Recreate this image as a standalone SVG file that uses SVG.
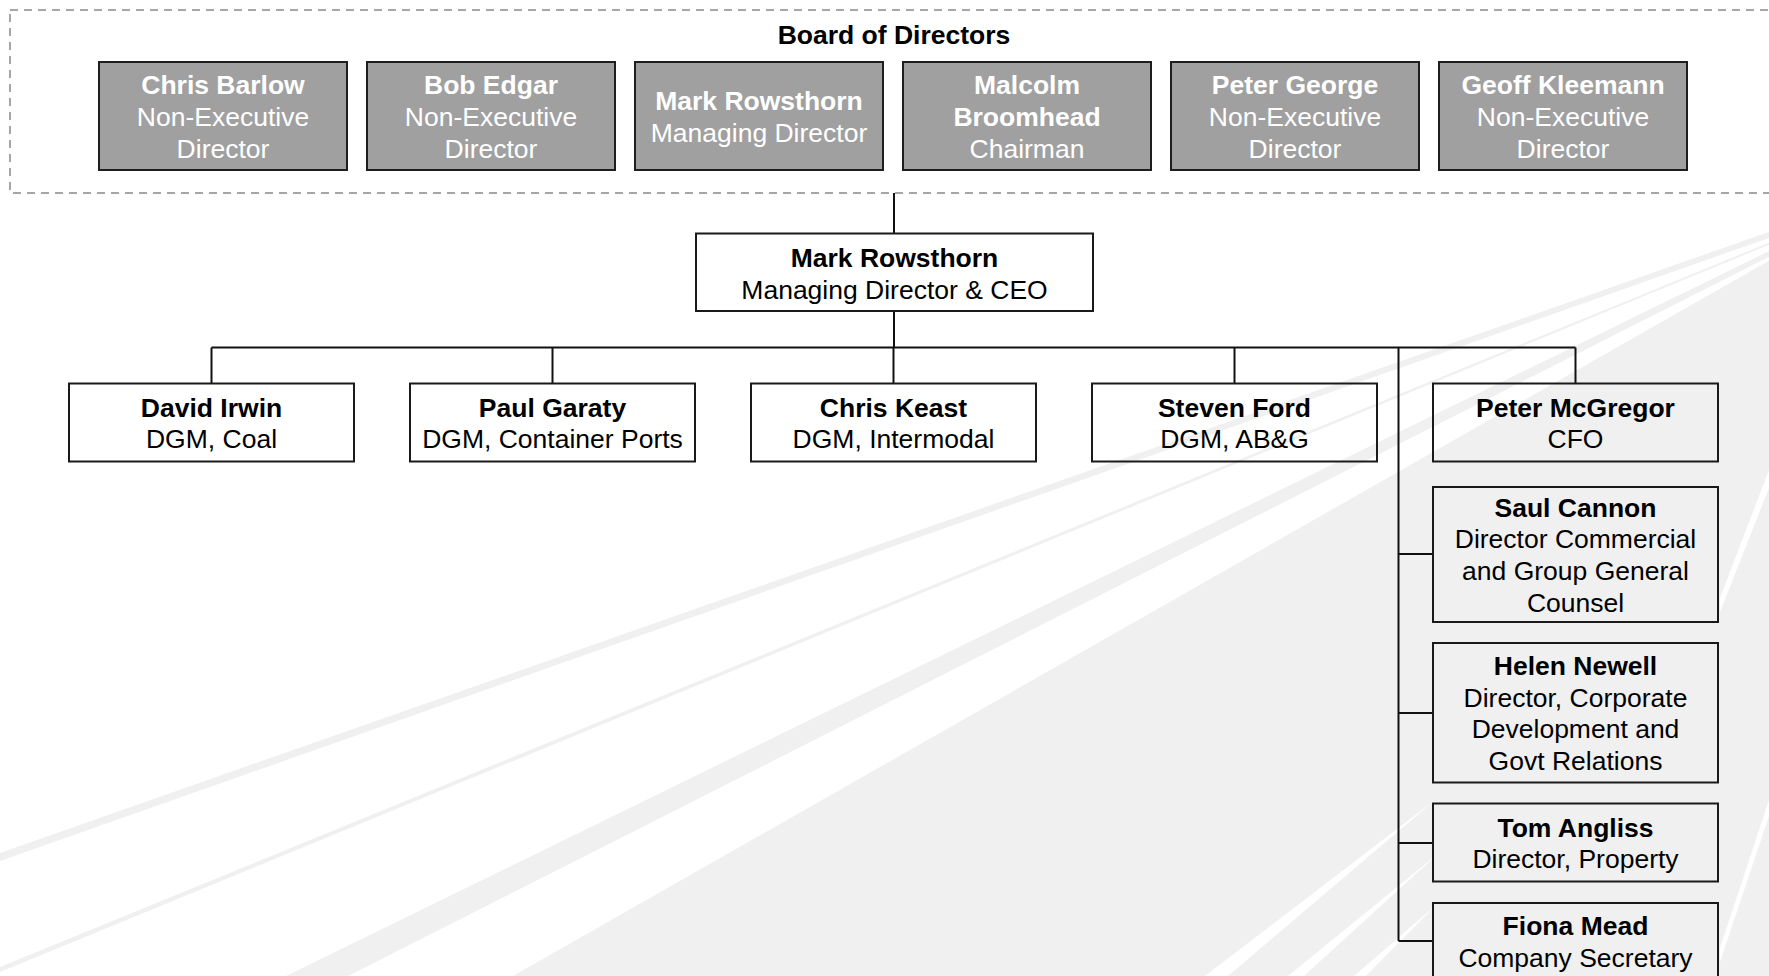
<svg xmlns="http://www.w3.org/2000/svg" width="1769" height="976" viewBox="0 0 1769 976">
<style>
  .t{font-family:"Liberation Sans",Arial,sans-serif;font-size:26.5px;text-anchor:middle;fill:#000}
  .b{font-weight:bold}
  .w{fill:#fff}
  .bbox{fill:#a0a0a0;stroke:#1e1e1e;stroke-width:2}
  .box{fill:none;stroke:#1a1a1a;stroke-width:2}
  .cn{stroke:#111;stroke-width:2;fill:none}
  .bg{fill:#f0f0f0}
  .ws{fill:#fff}
</style>
<g id="background">
  <rect width="1769" height="976" fill="#fff"/>
  <polygon class="bg" points="0,853 1800,221 1800,227 0,861"/>
  <polygon class="bg" points="0,967 1800,230 1800,232 0,972"/>
  <polygon class="bg" points="286,976 1800,236 1800,241 348,976"/>
  <polygon class="bg" points="513,976 1800,243 1800,976"/>
  <polygon class="ws" points="1205,976 1228,976 1435,800"/>
  <polygon class="ws" points="1288,976 1304,976 1440,852"/>
  <polygon class="ws" points="1354,976 1366,976 1436,905"/>
  <polygon class="ws" points="1769,470 1769,488 1720,612 1720,598"/>
  <polygon class="ws" points="1769,800 1769,816 1720,962 1720,948"/>
</g>
<g id="board-frame">
  <rect x="10" y="10" width="1790" height="183" fill="none" stroke="#a6a6a6" stroke-width="2" stroke-dasharray="8 6"/>
  <text class="t b" x="894" y="44">Board of Directors</text>
</g>
<g id="connectors" class="cn">
  <line x1="894" y1="193" x2="894" y2="233.5"/>
  <line x1="894" y1="311" x2="894" y2="347.5"/>
  <line x1="211.5" y1="347.5" x2="1575.5" y2="347.5"/>
  <line x1="211.5" y1="347.5" x2="211.5" y2="383.5"/>
  <line x1="552.5" y1="347.5" x2="552.5" y2="383.5"/>
  <line x1="893.5" y1="347.5" x2="893.5" y2="383.5"/>
  <line x1="1234.5" y1="347.5" x2="1234.5" y2="383.5"/>
  <line x1="1575.5" y1="347.5" x2="1575.5" y2="383.5"/>
  <line x1="1398.5" y1="347.5" x2="1398.5" y2="941"/>
  <line x1="1398.5" y1="554" x2="1433" y2="554"/>
  <line x1="1398.5" y1="713" x2="1433" y2="713"/>
  <line x1="1398.5" y1="843" x2="1433" y2="843"/>
  <line x1="1398.5" y1="941" x2="1433" y2="941"/>
</g>
<g id="n-chris-barlow">
  <rect class="bbox" x="99" y="62" width="248" height="108"/>
  <text class="t b w" x="223" y="94">Chris Barlow</text>
  <text class="t w" x="223" y="126">Non-Executive</text>
  <text class="t w" x="223" y="157.5">Director</text>
</g>
<g id="n-bob-edgar">
  <rect class="bbox" x="367" y="62" width="248" height="108"/>
  <text class="t b w" x="491" y="94">Bob Edgar</text>
  <text class="t w" x="491" y="126">Non-Executive</text>
  <text class="t w" x="491" y="157.5">Director</text>
</g>
<g id="n-mark-rowsthorn-board">
  <rect class="bbox" x="635" y="62" width="248" height="108"/>
  <text class="t b w" x="759" y="110">Mark Rowsthorn</text>
  <text class="t w" x="759" y="141.5">Managing Director</text>
</g>
<g id="n-malcolm-broomhead">
  <rect class="bbox" x="903" y="62" width="248" height="108"/>
  <text class="t b w" x="1027" y="94">Malcolm</text>
  <text class="t b w" x="1027" y="126">Broomhead</text>
  <text class="t w" x="1027" y="157.5">Chairman</text>
</g>
<g id="n-peter-george">
  <rect class="bbox" x="1171" y="62" width="248" height="108"/>
  <text class="t b w" x="1295" y="94">Peter George</text>
  <text class="t w" x="1295" y="126">Non-Executive</text>
  <text class="t w" x="1295" y="157.5">Director</text>
</g>
<g id="n-geoff-kleemann">
  <rect class="bbox" x="1439" y="62" width="248" height="108"/>
  <text class="t b w" x="1563" y="94">Geoff Kleemann</text>
  <text class="t w" x="1563" y="126">Non-Executive</text>
  <text class="t w" x="1563" y="157.5">Director</text>
</g>
<g id="n-ceo">
  <rect class="box" x="696" y="233.5" width="397" height="77.5"/>
  <text class="t b" x="894.5" y="266.5">Mark Rowsthorn</text>
  <text class="t" x="894.5" y="298.5">Managing Director &amp; CEO</text>
</g>
<g id="n-david-irwin">
  <rect class="box" x="69" y="383.5" width="285" height="78"/>
  <text class="t b" x="211.5" y="416.5">David Irwin</text>
  <text class="t" x="211.5" y="448.3">DGM, Coal</text>
</g>
<g id="n-paul-garaty">
  <rect class="box" x="410" y="383.5" width="285" height="78"/>
  <text class="t b" x="552.5" y="416.5">Paul Garaty</text>
  <text class="t" x="552.5" y="448.3">DGM, Container Ports</text>
</g>
<g id="n-chris-keast">
  <rect class="box" x="751" y="383.5" width="285" height="78"/>
  <text class="t b" x="893.5" y="416.5">Chris Keast</text>
  <text class="t" x="893.5" y="448.3">DGM, Intermodal</text>
</g>
<g id="n-steven-ford">
  <rect class="box" x="1092" y="383.5" width="285" height="78"/>
  <text class="t b" x="1234.5" y="416.5">Steven Ford</text>
  <text class="t" x="1234.5" y="448.3">DGM, AB&amp;G</text>
</g>
<g id="n-peter-mcgregor">
  <rect class="box" x="1433" y="383.5" width="285" height="78"/>
  <text class="t b" x="1575.5" y="416.5">Peter McGregor</text>
  <text class="t" x="1575.5" y="448.3">CFO</text>
</g>
<g id="n-saul-cannon">
  <rect class="box" x="1433" y="487" width="285" height="135"/>
  <text class="t b" x="1575.5" y="516.7">Saul Cannon</text>
  <text class="t" x="1575.5" y="548.3">Director Commercial</text>
  <text class="t" x="1575.5" y="580">and Group General</text>
  <text class="t" x="1575.5" y="611.7">Counsel</text>
</g>
<g id="n-helen-newell">
  <rect class="box" x="1433" y="643" width="285" height="139.5"/>
  <text class="t b" x="1575.5" y="675">Helen Newell</text>
  <text class="t" x="1575.5" y="706.7">Director, Corporate</text>
  <text class="t" x="1575.5" y="738.3">Development and</text>
  <text class="t" x="1575.5" y="770">Govt Relations</text>
</g>
<g id="n-tom-angliss">
  <rect class="box" x="1433" y="803.5" width="285" height="78"/>
  <text class="t b" x="1575.5" y="836.7">Tom Angliss</text>
  <text class="t" x="1575.5" y="868.3">Director, Property</text>
</g>
<g id="n-fiona-mead">
  <rect class="box" x="1433" y="903" width="285" height="110"/>
  <text class="t b" x="1575.5" y="935">Fiona Mead</text>
  <text class="t" x="1575.5" y="966.7">Company Secretary</text>
</g>
</svg>
